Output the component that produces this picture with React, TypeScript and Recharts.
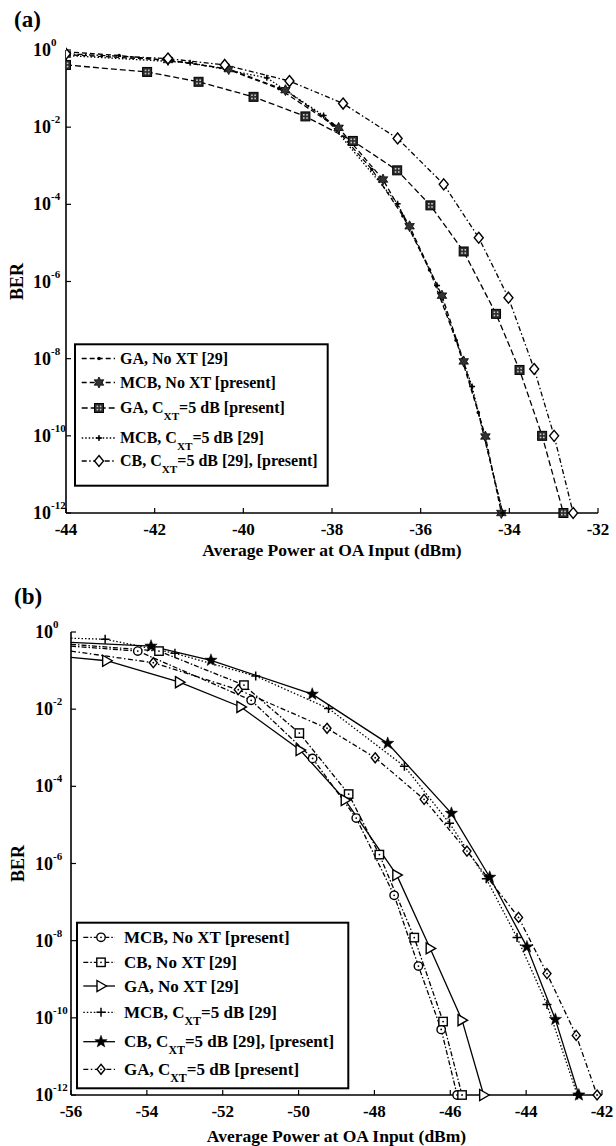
import React from 'react';
import { LineChart, Line, XAxis, YAxis } from 'recharts';

const FONT = '"Liberation Serif", "Times New Roman", Times, serif';

// ---------------- shared ticks ----------------
const berTicks = [1, 1e-2, 1e-4, 1e-6, 1e-8, 1e-10, 1e-12];

// ---------------- Panel (a) data ----------------
const aPowerTicks = [-44, -42, -40, -38, -36, -34, -32];

const aGaNoXtPower = [-44, -42.8, -41.6, -40.4, -39.2, -38.0, -37.1, -36.4, -35.8, -35.2, -34.7, -34.15];
const aGaNoXtBer = [0.9, 0.72, 0.52, 0.33, 0.1, 0.012, 8e-4, 5e-5, 2e-6, 3e-8, 4e-10, 1e-12];

const aMcbNoXtPower = [-44, -41.7, -40.33, -39.05, -37.85, -36.85, -36.25, -35.52, -35.03, -34.54, -34.18];
const aMcbNoXtBer = [0.76, 0.55, 0.32, 0.091, 0.0096, 4.4e-4, 2.7e-5, 4.3e-7, 8.5e-9, 9.6e-11, 1e-12];

const aGaXtPower = [-44, -42.17, -41.01, -39.77, -38.6, -37.53, -36.53, -35.78, -35.03, -34.3, -33.77, -33.26, -32.78];
const aGaXtBer = [0.41, 0.27, 0.15, 0.061, 0.019, 0.0044, 7.6e-4, 9.4e-5, 6e-6, 1.45e-7, 5.1e-9, 1e-10, 1e-12];

const aMcbXtPower = [-44, -41.2, -39.47, -38.19, -36.52, -35.63, -34.84, -34.15];
const aMcbXtBer = [0.72, 0.47, 0.19, 0.02, 1.04e-4, 7.9e-7, 1.9e-9, 1e-12];

const aCbXtPower = [-44, -41.7, -40.42, -38.96, -37.75, -36.52, -35.48, -34.69, -34.02, -33.44, -32.99, -32.56];
const aCbXtBer = [0.8, 0.6, 0.41, 0.157, 0.041, 5.1e-3, 3.3e-4, 1.36e-5, 3.8e-7, 5.4e-9, 1e-10, 1e-12];

// ---------------- Panel (b) data ----------------
const bPowerTicks = [-56, -54, -52, -50, -48, -46, -44, -42];

const bMcbNoXtPower = [-56, -54.24, -51.25, -49.63, -48.48, -47.48, -46.84, -46.24, -45.82];
const bMcbNoXtBer = [0.43, 0.32, 0.017, 5.3e-4, 1.5e-5, 1.5e-7, 2.2e-9, 5e-11, 1e-12];

const bCbNoXtPower = [-56, -53.68, -51.44, -49.98, -48.68, -47.87, -46.95, -46.19, -45.69];
const bCbNoXtBer = [0.48, 0.32, 0.042, 2.4e-3, 6.3e-5, 1.7e-6, 1.2e-8, 8e-11, 1e-12];

const bGaNoXtPower = [-56, -55.06, -53.14, -51.52, -49.96, -48.77, -47.41, -46.53, -45.69, -45.12];
const bGaNoXtBer = [0.22, 0.18, 0.05, 0.0114, 8.7e-4, 4.4e-5, 5e-7, 6.3e-9, 8.7e-11, 1e-12];

const bMcbXtPower = [-56, -55.1, -53.26, -51.13, -49.21, -47.21, -46.02, -45.05, -44.24, -43.45, -42.65];
const bMcbXtBer = [0.69, 0.65, 0.28, 0.072, 0.0104, 3.3e-4, 1.1e-5, 4e-7, 1.2e-8, 2.2e-10, 1e-12];

const bCbXtPower = [-56, -53.89, -52.31, -49.64, -47.65, -45.97, -44.96, -43.98, -43.23, -42.61];
const bCbXtBer = [0.54, 0.43, 0.185, 0.0245, 1.3e-3, 2e-5, 4.4e-7, 6.9e-9, 9.1e-11, 1e-12];

const bGaXtPower = [-56, -53.83, -51.59, -49.25, -47.98, -46.69, -45.56, -44.2, -43.45, -42.68, -42.13];
const bGaXtBer = [0.32, 0.16, 0.032, 3.2e-3, 5.5e-4, 4.6e-5, 2.1e-6, 4e-8, 1.4e-9, 3.5e-11, 1e-12];

// ---------------- helpers ----------------
type LabelParts = { main: string; sub?: string; rest?: string };
type Series = {
  key: string;
  label: LabelParts;
  power: number[];
  ber: number[];
  dash?: string;
  marker: string;
  markFirst: boolean;
};

const toData = (p: number[], b: number[]) => p.map((x, i) => ({ x, y: b[i] }));

function starPath(cx: number, cy: number, n: number, ro: number, ri: number) {
  let d = '';
  for (let i = 0; i < 2 * n; i++) {
    const r = i % 2 === 0 ? ro : ri;
    const a = -Math.PI / 2 + (i * Math.PI) / n;
    d += (i === 0 ? 'M' : 'L') + (cx + r * Math.cos(a)).toFixed(2) + ',' + (cy + r * Math.sin(a)).toFixed(2);
  }
  return d + 'Z';
}

function drawMarker(kind: string, cx: number, cy: number) {
  const k = '#000';
  switch (kind) {
    case 'dot':
      return <circle cx={cx} cy={cy} r={1.8} fill={k} />;
    case 'hexstar':
      return <path d={starPath(cx, cy, 6, 5.5, 3)} fill="#333" stroke={k} strokeWidth={0.8} />;
    case 'sqfill':
      return (
        <g>
          <rect x={cx - 4.5} y={cy - 4.5} width={9} height={9} fill="#2b2b2b" stroke={k} strokeWidth={1} />
          <rect x={cx - 2.4} y={cy - 2.4} width={1.6} height={1.6} fill="#ccc" />
          <rect x={cx + 0.8} y={cy - 2.4} width={1.6} height={1.6} fill="#ccc" />
          <rect x={cx - 2.4} y={cy + 0.8} width={1.6} height={1.6} fill="#ccc" />
          <rect x={cx + 0.8} y={cy + 0.8} width={1.6} height={1.6} fill="#ccc" />
        </g>
      );
    case 'smallplus':
      return (
        <g>
          <path d={`M${cx - 3},${cy}H${cx + 3}M${cx},${cy - 3}V${cy + 3}`} stroke={k} strokeWidth={1.4} />
          <circle cx={cx} cy={cy} r={1.5} fill={k} />
        </g>
      );
    case 'diamond':
      return (
        <path
          d={`M${cx},${cy - 5.5}L${cx + 4.5},${cy}L${cx},${cy + 5.5}L${cx - 4.5},${cy}Z`}
          fill="#fff"
          stroke={k}
          strokeWidth={1.4}
        />
      );
    case 'diamonddot':
      return (
        <g>
          <path
            d={`M${cx},${cy - 5}L${cx + 4},${cy}L${cx},${cy + 5}L${cx - 4},${cy}Z`}
            fill="#fff"
            stroke={k}
            strokeWidth={1.4}
          />
          <circle cx={cx} cy={cy} r={0.9} fill={k} />
        </g>
      );
    case 'circle':
      return (
        <g>
          <circle cx={cx} cy={cy} r={4.2} fill="#fff" stroke={k} strokeWidth={1.4} />
          <circle cx={cx} cy={cy} r={0.9} fill={k} />
        </g>
      );
    case 'square':
      return (
        <g>
          <rect x={cx - 4.2} y={cy - 4.2} width={8.4} height={8.4} fill="#fff" stroke={k} strokeWidth={1.4} />
          <circle cx={cx} cy={cy} r={0.9} fill={k} />
        </g>
      );
    case 'triangle':
      return (
        <path
          d={`M${cx - 4},${cy - 5.5}L${cx + 5.5},${cy}L${cx - 4},${cy + 5.5}Z`}
          fill="#fff"
          stroke={k}
          strokeWidth={1.4}
        />
      );
    case 'plus':
      return <path d={`M${cx - 4.5},${cy}H${cx + 4.5}M${cx},${cy - 4.5}V${cy + 4.5}`} stroke={k} strokeWidth={1.5} />;
    case 'star5':
      return <path d={starPath(cx, cy, 5, 6.5, 2.7)} fill={k} stroke={k} strokeWidth={0.5} />;
    default:
      return null;
  }
}

const makeDot = (s: Series) => (props: any) => {
  const { cx, cy, index } = props;
  const key = `dot-${s.key}-${index}`;
  if (cx == null || cy == null || Number.isNaN(cx) || Number.isNaN(cy) || (!s.markFirst && index === 0)) {
    return <g key={key} />;
  }
  return <g key={key}>{drawMarker(s.marker, cx, cy)}</g>;
};

// ---------------- series definitions ----------------
const seriesA: Series[] = [
  { key: 'aGaNoXt', label: { main: 'GA, No XT [29]' }, power: aGaNoXtPower, ber: aGaNoXtBer, dash: '5 3', marker: 'dot', markFirst: true },
  { key: 'aMcbNoXt', label: { main: 'MCB, No XT [present]' }, power: aMcbNoXtPower, ber: aMcbNoXtBer, dash: '5 3', marker: 'hexstar', markFirst: true },
  { key: 'aGaXt', label: { main: 'GA, C', sub: 'XT', rest: '=5 dB [present]' }, power: aGaXtPower, ber: aGaXtBer, dash: '6 3', marker: 'sqfill', markFirst: true },
  { key: 'aMcbXt', label: { main: 'MCB, C', sub: 'XT', rest: '=5 dB [29]' }, power: aMcbXtPower, ber: aMcbXtBer, dash: '1.5 2', marker: 'smallplus', markFirst: true },
  { key: 'aCbXt', label: { main: 'CB, C', sub: 'XT', rest: '=5 dB [29], [present]' }, power: aCbXtPower, ber: aCbXtBer, dash: '5 2.5 1.5 2.5', marker: 'diamond', markFirst: true },
];

const seriesB: Series[] = [
  { key: 'bMcbNoXt', label: { main: 'MCB, No XT [present]' }, power: bMcbNoXtPower, ber: bMcbNoXtBer, dash: '5 2 1.5 2', marker: 'circle', markFirst: false },
  { key: 'bCbNoXt', label: { main: 'CB, No XT [29]' }, power: bCbNoXtPower, ber: bCbNoXtBer, dash: '5 2 1.5 2', marker: 'square', markFirst: false },
  { key: 'bGaNoXt', label: { main: 'GA, No XT [29]' }, power: bGaNoXtPower, ber: bGaNoXtBer, marker: 'triangle', markFirst: false },
  { key: 'bMcbXt', label: { main: 'MCB, C', sub: 'XT', rest: '=5 dB [29]' }, power: bMcbXtPower, ber: bMcbXtBer, dash: '1.5 2', marker: 'plus', markFirst: false },
  { key: 'bCbXt', label: { main: 'CB, C', sub: 'XT', rest: '=5 dB [29], [present]' }, power: bCbXtPower, ber: bCbXtBer, marker: 'star5', markFirst: false },
  { key: 'bGaXt', label: { main: 'GA, C', sub: 'XT', rest: '=5 dB [present]' }, power: bGaXtPower, ber: bGaXtBer, dash: '5 2.5 1.5 2.5', marker: 'diamonddot', markFirst: false },
];

// ---------------- tick renderers ----------------
const makeYTickLeft = (labelDx: number) => (props: any) => {
  const { x, y, payload } = props;
  const e = Math.round(Math.log10(payload.value));
  return (
    <g>
      <line x1={x} y1={y} x2={x + 5} y2={y} stroke="#000" strokeWidth={1.2} />
      <text x={x - labelDx} y={y + 6} fontFamily={FONT} fontWeight="bold" fontSize={18} fill="#000" textAnchor="start">
        10
        <tspan dy={-10} fontSize={11}>{String(e)}</tspan>
      </text>
    </g>
  );
};

const YTickRight = (props: any) => {
  const { x, y } = props;
  return <line x1={x - 5} y1={y} x2={x} y2={y} stroke="#000" strokeWidth={1.2} />;
};

const XTickBottom = (props: any) => {
  const { x, y, payload } = props;
  return (
    <g>
      <line x1={x} y1={y} x2={x} y2={y - 5} stroke="#000" strokeWidth={1.2} />
      <text x={x} y={y + 22} fontFamily={FONT} fontWeight="bold" fontSize={17} fill="#000" textAnchor="middle">
        {String(payload.value)}
      </text>
    </g>
  );
};

const XTickTop = (props: any) => {
  const { x, y } = props;
  return <line x1={x} y1={y} x2={x} y2={y + 5} stroke="#000" strokeWidth={1.2} />;
};

const makeXTitle = (dy: number) => (props: any) => {
  const vb = props.viewBox || {};
  return (
    <text x={vb.x + vb.width / 2} y={vb.y + dy} fontFamily={FONT} fontWeight="bold" fontSize={17.5} fill="#000" textAnchor="middle">
      Average Power at OA Input (dBm)
    </text>
  );
};

const makeYTitle = (cxPos: number) => (props: any) => {
  const vb = props.viewBox || {};
  const cy = vb.y + vb.height / 2;
  return (
    <text
      x={cxPos}
      y={cy}
      transform={`rotate(-90 ${cxPos} ${cy})`}
      fontFamily={FONT}
      fontWeight="bold"
      fontSize={18}
      fill="#000"
      textAnchor="middle"
      dominantBaseline="central"
    >
      BER
    </text>
  );
};

const axisLineStyle = { stroke: '#000', strokeWidth: 1.6 };

function Panel(props: {
  series: Series[];
  xTicks: number[];
  width: number;
  height: number;
  margin: { top: number; right: number; bottom: number; left: number };
  yAxisWidth: number;
  xAxisHeight: number;
  yLabelDx: number;
  xTitleDy: number;
  yTitleX: number;
}) {
  const { series, xTicks, width, height, margin, yAxisWidth, xAxisHeight, yLabelDx, xTitleDy, yTitleX } = props;
  const xDomain: [number, number] = [xTicks[0], xTicks[xTicks.length - 1]];
  return (
    <LineChart width={width} height={height} margin={margin}>
      <XAxis
        xAxisId={0}
        dataKey="x"
        type="number"
        domain={xDomain}
        ticks={xTicks}
        interval={0}
        allowDataOverflow
        tickLine={false}
        tickSize={0}
        tickMargin={0}
        axisLine={axisLineStyle}
        tick={XTickBottom}
        height={xAxisHeight}
        label={makeXTitle(xTitleDy)}
      />
      <XAxis
        xAxisId="top"
        orientation="top"
        dataKey="x"
        type="number"
        domain={xDomain}
        ticks={xTicks}
        interval={0}
        allowDataOverflow
        tickLine={false}
        tickSize={0}
        tickMargin={0}
        axisLine={axisLineStyle}
        tick={XTickTop}
        height={0}
      />
      <YAxis
        yAxisId={0}
        scale="log"
        type="number"
        domain={[1e-12, 1]}
        ticks={berTicks}
        interval={0}
        tickLine={false}
        tickSize={0}
        tickMargin={0}
        axisLine={axisLineStyle}
        tick={makeYTickLeft(yLabelDx)}
        width={yAxisWidth}
        label={makeYTitle(yTitleX)}
      />
      <YAxis
        yAxisId="right"
        orientation="right"
        scale="log"
        type="number"
        domain={[1e-12, 1]}
        ticks={berTicks}
        interval={0}
        allowDataOverflow
        tickLine={false}
        tickSize={0}
        tickMargin={0}
        axisLine={axisLineStyle}
        tick={YTickRight}
        width={0}
      />
      {series.map((s) => (
        <Line
          key={s.key}
          xAxisId={0}
          yAxisId={0}
          data={toData(s.power, s.ber)}
          dataKey="y"
          type="linear"
          stroke="#000"
          strokeWidth={1.3}
          strokeDasharray={s.dash}
          dot={makeDot(s)}
          activeDot={false}
          isAnimationActive={false}
        />
      ))}
    </LineChart>
  );
}

function LegendBox(props: {
  series: Series[];
  x: number;
  y: number;
  w: number;
  h: number;
  rowsY: number[];
  fontSize: number;
  sx1: number;
  sx2: number;
  mx: number;
  tx: number;
}) {
  const { series, x, y, w, h, rowsY, fontSize, sx1, sx2, mx, tx } = props;
  return (
    <g>
      <rect x={x} y={y} width={w} height={h} fill="#fff" stroke="#000" strokeWidth={2} />
      {series.map((s, i) => {
        const cy = y + rowsY[i];
        return (
          <g key={s.key}>
            <line x1={x + sx1} y1={cy} x2={x + sx2} y2={cy} stroke="#000" strokeWidth={1.3} strokeDasharray={s.dash} />
            {drawMarker(s.marker, x + mx, cy)}
            <text x={x + tx} y={cy + fontSize * 0.33} fontFamily={FONT} fontWeight="bold" fontSize={fontSize} fill="#000">
              {s.label.main}
              {s.label.sub ? (
                <tspan dy={7} fontSize={fontSize * 0.7}>
                  {s.label.sub}
                </tspan>
              ) : null}
              {s.label.rest ? (
                <tspan dy={-7} fontSize={fontSize}>
                  {s.label.rest}
                </tspan>
              ) : null}
            </text>
          </g>
        );
      })}
    </g>
  );
}

export default function App() {
  return (
    <div style={{ position: 'absolute', left: 0, top: 0, width: 616, height: 1146, background: '#fff', overflow: 'hidden' }}>
      <div style={{ position: 'absolute', left: 0, top: 0 }}>
        <Panel
          series={seriesA}
          xTicks={aPowerTicks}
          width={616}
          height={575}
          margin={{ top: 50, right: 18, bottom: 0, left: 0 }}
          yAxisWidth={66}
          xAxisHeight={62}
          yLabelDx={33}
          xTitleDy={43}
          yTitleX={17}
        />
      </div>
      <div style={{ position: 'absolute', left: 0, top: 575 }}>
        <Panel
          series={seriesB}
          xTicks={bPowerTicks}
          width={616}
          height={571}
          margin={{ top: 57, right: 14, bottom: 0, left: 0 }}
          yAxisWidth={71}
          xAxisHeight={51}
          yLabelDx={36}
          xTitleDy={46.5}
          yTitleX={18}
        />
      </div>
      <svg width={616} height={1146} style={{ position: 'absolute', left: 0, top: 0, pointerEvents: 'none' }}>
        <text x={14} y={27} fontFamily={FONT} fontWeight="bold" fontSize={23} fill="#000">(a)</text>
        <text x={14} y={604} fontFamily={FONT} fontWeight="bold" fontSize={23} fill="#000">(b)</text>
        <LegendBox
          series={seriesA}
          x={75}
          y={344.3}
          w={252.7}
          h={141.4}
          rowsY={[14.2, 38.2, 63.7, 93.7, 116.7]}
          fontSize={16}
          sx1={6.7}
          sx2={40}
          mx={24}
          tx={45}
        />
        <LegendBox
          series={seriesB}
          x={77}
          y={922.7}
          w={271.3}
          h={165.6}
          rowsY={[14.6, 39.6, 63.3, 89.6, 119, 146.6]}
          fontSize={17}
          sx1={6.3}
          sx2={38}
          mx={24}
          tx={47}
        />
      </svg>
    </div>
  );
}
